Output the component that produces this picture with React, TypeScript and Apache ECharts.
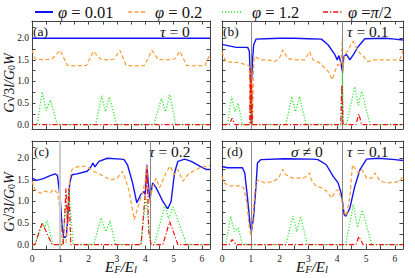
import React, { useEffect, useRef } from "react";
import * as echarts from "echarts";

const FONT = "'Liberation Serif', 'DejaVu Serif', serif";
const XMAX = 2 * Math.PI;

const names = ["φ = 0.01", "φ = 0.2", "φ = 1.2", "φ =π/2"];
const xTicks = [0, 0.5, 1, 1.5, 2, 2.5, 3, 3.5, 4, 4.5, 5, 5.5, 6];
const xLabels = [0, 1, 2, 3, 4, 5, 6];
const yTicks = [0, 0.25, 0.5, 0.75, 1, 1.25, 1.5, 1.75, 2, 2.25];
const yLabels = [0, 0.5, 1, 1.5, 2];

// panel (a) tau = 0
const aBlue = [[0, 2.0], [6.28, 2.0]];
const aOrange = [[0, 1.72], [0.12, 1.52], [0.4, 1.5], [0.71, 1.52], [0.99, 1.72], [1.25, 1.37], [1.6, 1.36], [1.92, 1.37], [2.17, 1.7], [2.43, 1.51], [2.7, 1.5], [2.9, 1.52], [3.11, 1.72], [3.32, 1.37], [3.65, 1.36], [3.97, 1.37], [4.24, 1.72], [4.45, 1.51], [4.75, 1.5], [5.04, 1.52], [5.22, 1.7], [5.46, 1.37], [5.8, 1.36], [6.11, 1.37], [6.28, 1.63]];
const aGreen = [[0, 0], [0.18, 0], [0.36, 0.76], [0.5, 0.33], [0.65, 0.57], [0.89, 0], [2.25, 0], [2.46, 0.67], [2.59, 0.3], [2.73, 0.65], [2.99, 0], [4.3, 0], [4.57, 0.61], [4.71, 0.3], [4.86, 0.7], [5.08, 0], [6.28, 0]];
const aRed = [[0, 0], [6.28, 0]];

// panel (b) tau = 0.1
const bBlue = [[0, 1.86], [0.2, 1.83], [0.5, 1.79], [0.89, 1.79], [0.95, 1.7], [0.98, 1.1], [1.0, 0.9], [1.03, 1.05], [1.06, 1.5], [1.1, 1.85], [1.18, 1.98], [1.5, 1.99], [2.0, 2.0], [2.5, 2.0], [3.0, 1.99], [3.45, 1.98], [3.68, 1.85], [3.92, 1.62], [4.0, 1.5], [4.06, 1.6], [4.12, 1.45], [4.18, 1.23], [4.23, 1.58], [4.32, 1.63], [4.44, 1.5], [4.56, 1.62], [4.73, 1.81], [4.96, 1.99], [5.66, 2.0], [6.0, 1.98], [6.28, 1.96]];
const bOrange = [[0, 1.69], [0.13, 1.46], [0.3, 1.45], [0.54, 1.44], [0.89, 1.38], [0.95, 1.35], [0.97, 0.3], [0.99, 1.3], [1.01, 0.1], [1.03, 0.9], [1.06, 0.0], [1.09, 1.2], [1.12, 1.58], [1.35, 1.5], [1.6, 1.5], [1.82, 1.46], [1.99, 1.53], [2.11, 1.73], [2.29, 1.53], [2.52, 1.5], [2.87, 1.5], [3.04, 1.69], [3.16, 1.5], [3.39, 1.43], [3.57, 1.31], [3.69, 1.23], [3.83, 1.04], [3.92, 1.23], [4.02, 1.4], [4.1, 1.35], [4.15, 1.6], [4.18, 2.04], [4.2, 1.2], [4.23, 1.5], [4.27, 1.63], [4.39, 1.73], [4.47, 1.85], [4.56, 1.93], [4.62, 1.85], [4.73, 1.69], [4.91, 1.58], [5.06, 1.46], [5.31, 1.5], [5.66, 1.5], [6.01, 1.5], [6.19, 1.53], [6.28, 1.72]];
const bGreen = [[0, 0], [0.19, 0], [0.33, 0.65], [0.45, 0.3], [0.56, 0.5], [0.71, 0], [0.99, 0], [1.02, 0.7], [1.05, 0], [2.22, 0], [2.42, 0.65], [2.55, 0.3], [2.69, 0.65], [2.92, 0], [4.14, 0], [4.18, 1.2], [4.22, 0], [4.32, 0], [4.61, 0.88], [4.73, 0.45], [4.85, 0.77], [5.14, 0], [6.28, 0]];
const bRed = [[0, 0], [0.25, 0], [0.35, 0.15], [0.45, 0], [0.96, 0], [0.99, 1.3], [1.01, 0], [1.03, 1.0], [1.06, 0], [4.12, 0], [4.16, 0.92], [4.2, 0], [4.65, 0], [4.75, 0.25], [4.85, 0], [6.28, 0]];

// panel (c) tau = 0.2
const cBlue = [[0, 1.54], [0.17, 1.49], [0.4, 1.53], [0.64, 1.6], [0.82, 1.64], [0.9, 1.6], [1.0, 1.04], [1.06, 0.43], [1.12, 0.16], [1.21, 0.19], [1.27, 0.66], [1.33, 1.43], [1.41, 1.62], [1.59, 1.64], [1.95, 1.7], [2.08, 1.8], [2.15, 1.89], [2.22, 1.8], [2.36, 1.93], [2.66, 2.0], [3.13, 1.98], [3.25, 1.97], [3.37, 1.85], [3.55, 1.43], [3.7, 0.97], [3.84, 1.16], [3.96, 1.23], [4.0, 1.16], [4.05, 1.85], [4.16, 1.04], [4.26, 1.43], [4.38, 1.32], [4.62, 1.0], [4.79, 0.83], [4.91, 1.0], [5.03, 1.66], [5.15, 1.93], [5.39, 1.98], [5.62, 1.93], [5.92, 1.82], [6.16, 1.74], [6.28, 1.74]];
const cOrange = [[0, 1.47], [0.1, 1.28], [0.29, 1.19], [0.46, 1.24], [0.64, 1.2], [0.76, 1.28], [0.9, 1.2], [1.0, 0.73], [1.06, 0.12], [1.12, 0], [1.2, 0.05], [1.27, 0.54], [1.33, 1.5], [1.41, 1.74], [1.59, 1.8], [1.83, 1.82], [1.99, 1.78], [2.18, 1.7], [2.54, 1.58], [2.78, 1.5], [3.01, 1.54], [3.19, 1.7], [3.31, 1.5], [3.43, 1.24], [3.61, 0.58], [3.73, 0.85], [3.9, 1.2], [4.02, 1.55], [4.05, 1.85], [4.1, 1.2], [4.14, 0.97], [4.26, 1.35], [4.38, 1.54], [4.5, 1.32], [4.73, 1.66], [4.87, 1.82], [5.03, 1.62], [5.15, 1.74], [5.33, 1.47], [5.5, 1.62], [5.68, 1.7], [5.92, 1.78], [6.16, 1.82], [6.28, 1.83]];
const cGreen = [[0, 0], [0.11, 0], [0.36, 0.51], [0.45, 0.4], [0.53, 0.56], [0.74, 0], [1.07, 0], [1.2, 0.9], [1.25, 0.6], [1.3, 1.3], [1.45, 0], [2.18, 0], [2.44, 0.62], [2.6, 0.3], [2.75, 0.55], [2.95, 0], [3.84, 0], [4.02, 1.08], [4.2, 0], [4.32, 0], [4.69, 0.92], [4.82, 0.6], [4.98, 0.87], [5.46, 0], [6.28, 0]];
const cRed = [[0, 0], [0.1, 0], [0.36, 0.5], [0.71, 0], [1.1, 0], [1.2, 1.3], [1.25, 0.5], [1.3, 1.3], [1.37, 0], [3.85, 0], [4.0, 1.2], [4.06, 1.75], [4.12, 0.3], [4.2, 0], [4.62, 0], [4.86, 0.54], [5.15, 0], [6.28, 0]];

// panel (d) sigma != 0, tau = 0.1
const dBlue = [[0, 1.81], [0.19, 1.78], [0.5, 1.78], [0.71, 1.78], [0.79, 1.66], [0.88, 1.12], [0.97, 0.5], [1.02, 0.31], [1.09, 0.6], [1.18, 1.35], [1.23, 1.89], [1.35, 1.97], [2.17, 1.99], [3.16, 1.98], [3.33, 1.97], [3.62, 1.85], [3.86, 1.58], [4.03, 1.43], [4.15, 1.16], [4.24, 0.7], [4.3, 0.66], [4.44, 0.85], [4.61, 1.35], [4.79, 1.74], [5.02, 1.98], [5.43, 2.0], [6.01, 1.97], [6.28, 1.95]];
const dOrange = [[0, 1.58], [0.07, 1.43], [0.24, 1.36], [0.65, 1.36], [0.75, 1.32], [0.86, 0.97], [0.94, 0.43], [1.0, 0.21], [1.05, 0.43], [1.14, 1.2], [1.2, 1.46], [1.29, 1.5], [1.47, 1.43], [1.76, 1.46], [1.96, 1.54], [2.11, 1.74], [2.22, 1.62], [2.46, 1.54], [2.81, 1.54], [2.92, 1.58], [3.04, 1.66], [3.1, 1.5], [3.27, 1.35], [3.45, 1.32], [3.62, 1.24], [3.82, 1.08], [3.92, 1.24], [4.05, 1.27], [4.15, 1.04], [4.24, 0.77], [4.32, 0.66], [4.44, 1.12], [4.53, 1.85], [4.61, 1.78], [4.73, 1.66], [4.85, 1.74], [5.02, 1.54], [5.2, 1.54], [5.31, 1.66], [5.49, 1.47], [5.72, 1.43], [6.01, 1.45], [6.19, 1.47], [6.28, 1.62]];
const dGreen = [[0, 0], [0.13, 0], [0.3, 0.66], [0.43, 0.3], [0.56, 0.39], [0.71, 0], [2.22, 0], [2.46, 0.66], [2.6, 0.3], [2.73, 0.66], [2.96, 0], [4.29, 0], [4.56, 0.93], [4.7, 0.4], [4.87, 0.8], [5.2, 0], [6.28, 0]];
const dRed = [[0, 0], [0.25, 0], [0.35, 0.12], [0.5, 0], [4.65, 0], [4.75, 0.19], [4.9, 0], [6.28, 0]];

const vLines = [1.0, 4.19];

const panels = [
  { data: [aBlue, aOrange, aGreen, aRed], lines: [] as number[] },
  { data: [bBlue, bOrange, bGreen, bRed], lines: vLines },
  { data: [cBlue, cOrange, cGreen, cRed], lines: vLines },
  { data: [dBlue, dOrange, dGreen, dRed], lines: vLines },
];

const grids = [
  { left: 32, top: 21, width: 178, height: 108 },
  { left: 222, top: 21, width: 181, height: 108 },
  { left: 32, top: 141, width: 178, height: 108 },
  { left: 222, top: 141, width: 181, height: 108 },
];

const colors = ["#1414f0", "#ff9a33", "#33e633", "#ee1111"];
const styles: any[] = [
  { width: 1.4, type: "solid" },
  { width: 1.2, type: [4, 2.5] },
  { width: 1.3, type: [1.2, 1.8] },
  { width: 1.2, type: [5, 2, 1.2, 2] },
];
const legendDash: any[] = [null, [4, 2.5], [1.2, 1.8], [5, 2, 1.2, 2]];
const legendPos = [
  { x1: 35, x2: 53, tx: 58 },
  { x1: 128, x2: 147, tx: 155 },
  { x1: 222, x2: 243, tx: 252 },
  { x1: 323, x2: 342, tx: 348 },
];

const AX = "#444";

function App() {
  const ref = useRef<HTMLDivElement>(null);
  useEffect(() => {
    if (!ref.current) return;
    const chart = echarts.init(ref.current, null, { renderer: "svg" });
    const xAxis: any[] = [];
    const yAxis: any[] = [];
    const series: any[] = [];
    grids.forEach((g, gi) => {
      ["bottom", "top"].forEach((pos) => {
        xAxis.push({
          gridIndex: gi, type: "value", min: 0, max: XMAX, position: pos,
          axisLine: { show: true, onZero: false, lineStyle: { color: AX, width: 1 } },
          axisTick: { show: true, inside: true, length: 3.5, customValues: xTicks, lineStyle: { color: AX } },
          axisLabel: { show: pos === "bottom" && gi >= 2, customValues: xLabels, fontFamily: FONT, fontSize: 9.5, color: "#222", margin: 5 },
          splitLine: { show: false },
        });
      });
      ["left", "right"].forEach((pos) => {
        yAxis.push({
          gridIndex: gi, type: "value", min: -0.1, max: 2.4, position: pos,
          axisLine: { show: true, onZero: false, lineStyle: { color: AX, width: 1 } },
          axisTick: { show: true, inside: true, length: 3.5, customValues: yTicks, lineStyle: { color: AX } },
          axisLabel: { show: pos === "left" && (gi === 0 || gi === 2), customValues: yLabels, fontFamily: FONT, fontSize: 9.5, color: "#222", margin: 3, formatter: (v: number) => v.toFixed(1) },
          splitLine: { show: false },
        });
      });
      const p = panels[gi];
      p.data.forEach((d, si) => {
        const s: any = {
          type: "line", name: names[si], data: d, xAxisIndex: 2 * gi, yAxisIndex: 2 * gi,
          symbol: "none", showSymbol: false, color: colors[si], lineStyle: { color: colors[si], ...styles[si] },
          silent: true, z: 3 + si,
        };
        if (si === 0 && p.lines.length) {
          s.markLine = {
            silent: true, symbol: "none", label: { show: false },
            data: p.lines.map((x, k) => ({
              xAxis: gi === 2 && k === 0 ? 0.97 : x,
              lineStyle: gi === 2 && k === 0 ? { color: "#cccccc", width: 2, type: "solid" } : { color: "#888", width: 1, type: "solid" },
            })),
          };
        }
        series.push(s);
      });
    });

    const txt = (text: string, x: number, y: number, size: number, extra: any = {}) => ({
      type: "text", x, y, silent: true,
      style: {
        text, fontFamily: FONT, fontSize: size, fill: "#111", textAlign: "left", textVerticalAlign: "middle",
        rich: {
          i: { fontStyle: "italic", fontFamily: FONT, fontSize: size },
          s: { fontStyle: "italic", fontFamily: FONT, fontSize: size * 0.7, verticalAlign: "bottom", lineHeight: size * 0.9 },
          n: { fontFamily: FONT, fontSize: size * 0.7, verticalAlign: "bottom", lineHeight: size * 0.9 },
        },
        ...extra,
      },
    });

    const graphic: any[] = [
      txt("(a)", 33, 31, 13.5),
      txt("{i|τ} = 0", 160, 31, 15.5),
      txt("(b)", 223, 31, 13.5),
      txt("{i|τ} = 0.1", 347, 31, 15.5),
      txt("(c)", 34, 151, 13.5),
      txt("{i|τ} = 0.2", 149, 151, 15.5),
      txt("(d)", 227, 151, 13.5),
      txt("{i|σ} ≠ 0", 291, 151, 15.5),
      txt("{i|τ} = 0.1", 347, 151, 15.5),
      txt("{i|E}{s|F}{i|/E}{s|l}", 121, 267, 15, { textAlign: "center" }),
      txt("{i|E}{s|F}{i|/E}{s|l}", 312, 267, 15, { textAlign: "center" }),
      { ...txt("{i|G}√3{i|l/G}{n|0}{i|W}", 9, 83, 14, { textAlign: "center" }), rotation: Math.PI / 2 },
      { ...txt("{i|G}√3{i|l/G}{n|0}{i|W}", 9, 202, 14, { textAlign: "center" }), rotation: Math.PI / 2 },
    ];
    legendPos.forEach((lp, k) => {
      graphic.push({
        type: "line", silent: true,
        shape: { x1: lp.x1, y1: 12, x2: lp.x2, y2: 12 },
        style: { stroke: colors[k], lineWidth: k === 0 ? 2 : 1.6, lineDash: legendDash[k] },
      });
      graphic.push(txt(names[k].replace("φ", "{i|φ}").replace("π", "{i|π}"), lp.tx, 12, 16.5));
    });

    chart.setOption({
      animation: false,
      backgroundColor: "#fff",
      grid: grids.map((g) => ({ ...g, containLabel: false })),
      xAxis, yAxis, series, graphic,
    });
    return () => chart.dispose();
  }, []);
  return <div ref={ref} style={{ position: "absolute", left: 0, top: 0, width: 415, height: 278 }} />;
}

export default App;
